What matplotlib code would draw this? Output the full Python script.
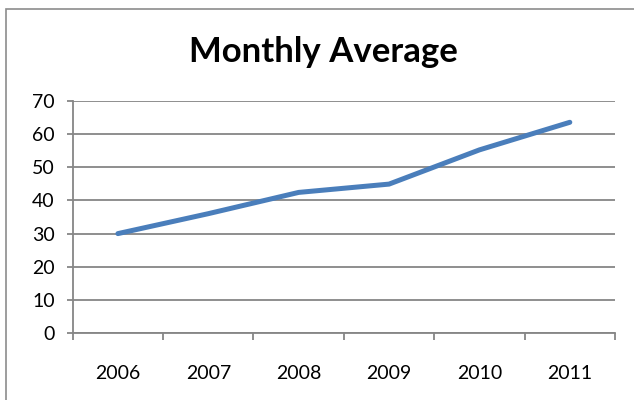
import matplotlib
matplotlib.use("Agg")
import matplotlib.pyplot as plt
from matplotlib.patches import Rectangle

years = ["2006", "2007", "2008", "2009", "2010", "2011"]
values = [30, 36, 42.4, 44.9, 55.2, 63.5]
yticks = [0, 10, 20, 30, 40, 50, 60, 70]

W, H = 634, 400
fig = plt.figure(figsize=(W / 100, H / 100), dpi=100)
fig.patch.set_facecolor("white")

# Outer chart border (right/bottom off canvas)
fig.add_artist(Rectangle((6 / W, -0.1), 1.2, (H - 9) / H + 0.1, transform=fig.transFigure,
                         fill=False, edgecolor="#8c8c8c", linewidth=1.2, clip_on=False))

left, right, top, bottom = 72.7, 615, 100.7, 333.3
ax = fig.add_axes([left / W, 1 - bottom / H, (right - left) / W, (bottom - top) / H])

x = list(range(len(years)))
ax.plot(x, values, color="#4A7EBB", linewidth=3.6, solid_capstyle="round", solid_joinstyle="round", zorder=3)

ax.set_xlim(-0.5, len(years) - 0.5)
ax.set_ylim(0, 70)
ax.set_yticks(yticks)
ax.set_yticklabels([str(v) for v in yticks])
ax.set_xticks(x)
ax.set_xticklabels(years)
ax.set_xticks([i - 0.5 for i in range(len(years) + 1)], minor=True)

font = "Lato"
for lab in ax.get_yticklabels() + ax.get_xticklabels():
    lab.set_fontfamily(font)
    lab.set_fontsize(14)
    lab.set_color("black")

ax.grid(axis="y", color="#868686", linewidth=1.3)
ax.set_axisbelow(True)
for s in ["top", "right"]:
    ax.spines[s].set_visible(False)
ax.spines["left"].set_color("#868686")
ax.spines["left"].set_linewidth(1.3)
ax.spines["bottom"].set_color("#868686")
ax.spines["bottom"].set_linewidth(1.3)

ax.tick_params(axis="y", length=4, width=1.3, color="#868686", pad=9)
ax.tick_params(axis="x", which="major", length=0, pad=23)
ax.tick_params(axis="x", which="minor", length=5, width=1.3, color="#868686")

fig.text(323 / W, 1 - 52 / H, "Monthly Average", ha="center", va="center",
         fontsize=25, fontweight="bold", fontfamily=font)

fig.savefig("out.png", dpi=100, facecolor="white")
